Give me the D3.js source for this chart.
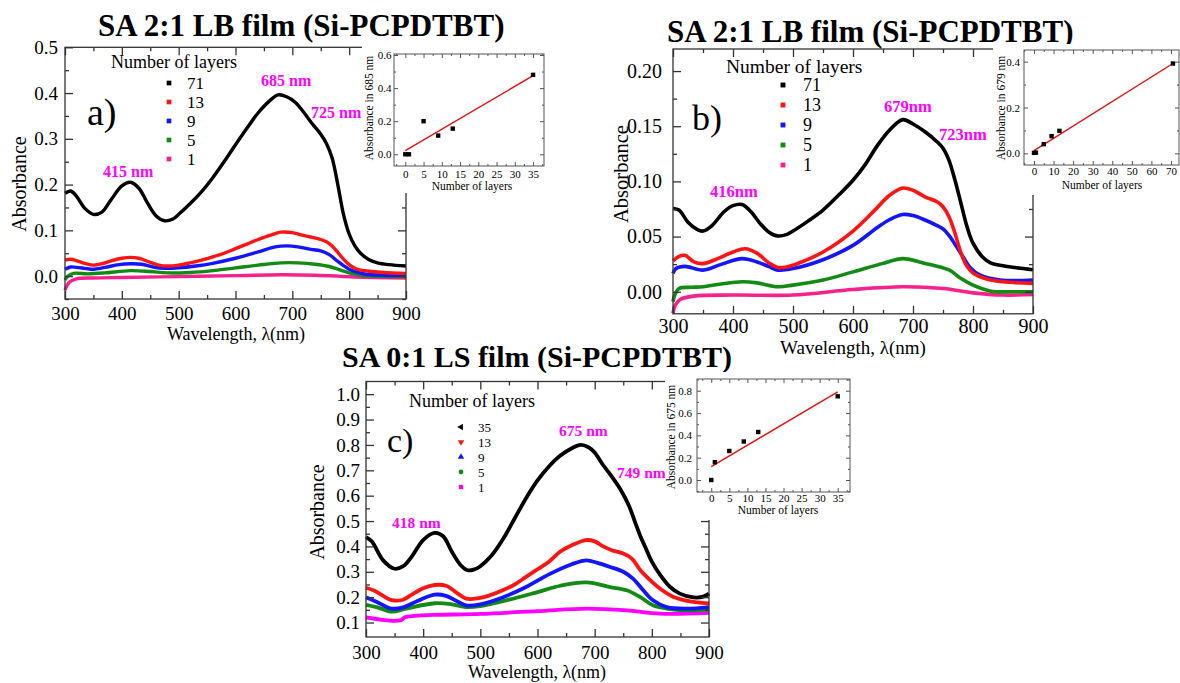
<!DOCTYPE html>
<html>
<head>
<meta charset="utf-8">
<script src="https://cdn.jsdelivr.net/npm/d3@7"></script>
<style>
body { margin:0; background:#fff; }
svg text { font-family: "Liberation Serif", "Times New Roman", Tinos, "DejaVu Serif", serif; }
</style>
</head>
<body>
<div id="vis"></div>
<script>
// ---- data ----
var layersAB = ["71", "13", "9", "5", "1"];
var layersC  = ["35", "13", "9", "5", "1"];

// panel a) SA 2:1 LB film, absorbance vs wavelength
var a71 = [[300,.181],[310,.186],[320,.175],[335,.148],[350,.135],[365,.140],[380,.165],[400,.197],[415,.205],[430,.192],[445,.160],[460,.132],[475,.121],[490,.125],[500,.135],[520,.158],[540,.184],[560,.215],[580,.250],[600,.287],[620,.323],[640,.357],[660,.383],[675,.396],[690,.392],[705,.380],[720,.358],[735,.333],[750,.310],[760,.290],[770,.258],[780,.200],[790,.135],[800,.092],[810,.066],[820,.050],[835,.036],[850,.029],[870,.025],[900,.022]];
var a13 = [[300,.035],[310,.037],[320,.034],[335,.028],[350,.024],[365,.027],[380,.033],[400,.039],[415,.041],[430,.039],[450,.030],[465,.024],[480,.022],[500,.024],[520,.029],[540,.035],[560,.042],[580,.050],[600,.060],[620,.070],[640,.080],[660,.089],[680,.096],[700,.095],[715,.090],[730,.086],[745,.082],[760,.075],[770,.066],[780,.052],[790,.037],[800,.025],[810,.017],[820,.013],[840,.010],[860,.008],[900,.006]];
var a9  = [[300,.015],[310,.020],[320,.019],[335,.017],[350,.015],[370,.019],[395,.025],[415,.027],[435,.026],[455,.020],[475,.017],[500,.018],[530,.022],[560,.028],[600,.039],[640,.053],[670,.064],[690,.066],[710,.064],[730,.059],[750,.055],[765,.047],[780,.032],[790,.023],[800,.015],[815,.008],[830,.004],[860,.002],[900,.001]];
var a5  = [[300,-.008],[305,.000],[315,.006],[340,.005],[370,.007],[415,.012],[450,.010],[480,.007],[520,.008],[560,.012],[600,.018],[640,.024],[680,.029],[710,.029],[740,.026],[765,.021],[785,.013],[800,.007],[815,.003],[840,.000],[900,-.001]];
var a1  = [[300,-.031],[303,-.022],[308,-.013],[320,-.006],[350,-.004],[400,-.003],[500,-.001],[600,.001],[680,.003],[740,.002],[780,.000],[810,-.002],[900,-.004]];

// panel b) SA 2:1 LB film
var b71 = [[300,.0755],[310,.074],[325,.063],[340,.0565],[350,.055],[365,.060],[385,.0725],[400,.078],[415,.079],[430,.0725],[445,.062],[460,.054],[475,.0505],[490,.052],[500,.055],[525,.064],[550,.074],[575,.087],[600,.101],[620,.115],[640,.132],[660,.146],[683,.156],[700,.152],[720,.145],[740,.136],[750,.130],[760,.119],[770,.101],[780,.080],[790,.059],[800,.044],[815,.032],[830,.026],[850,.0236],[870,.022],[900,.020]];
var b13 = [[300,.028],[310,.032],[320,.033],[335,.027],[350,.0255],[370,.029],[400,.036],[420,.039],[440,.035],[460,.026],[475,.022],[490,.0225],[510,.026],[550,.036],[600,.055],[640,.076],[660,.087],[683,.094],[700,.092],[720,.086],[740,.0815],[750,.077],[760,.068],[770,.053],[780,.035],[790,.023],[800,.017],[820,.012],[850,.009],[900,.0076]];
var b9  = [[300,.0166],[305,.021],[320,.023],[350,.0196],[380,.0248],[415,.030],[440,.027],[460,.0227],[475,.0196],[500,.021],[550,.029],[600,.042],[640,.058],[660,.065],[683,.070],[700,.069],[720,.065],[740,.060],[750,.057],[760,.051],[770,.043],[783,.032],[795,.022],[812,.015],[845,.0106],[900,.0106]];
var b5  = [[300,-.009],[303,-.003],[310,.003],[330,.004],[350,.0045],[380,.007],[415,.009],[440,.008],[475,.0045],[500,.006],[550,.0106],[600,.018],[650,.0257],[683,.030],[720,.0257],[760,.0197],[780,.012],[800,.006],[830,.0005],[870,.000],[900,.000]];
var b1  = [[300,-.0195],[304,-.012],[312,-.007],[334,-.004],[400,-.003],[500,-.003],[600,.002],[683,.0045],[750,.003],[800,-.001],[850,-.003],[900,-.0025]];

// panel c) SA 0:1 LS film
var c35 = [[300,.437],[310,.42],[330,.345],[350,.312],[365,.322],[380,.36],[400,.425],[420,.453],[435,.44],[450,.38],[465,.328],[478,.306],[490,.31],[500,.322],[520,.365],[540,.43],[560,.51],[580,.59],[600,.66],[620,.715],[640,.758],[660,.787],[675,.80],[690,.79],[700,.77],[715,.72],[730,.675],[745,.625],[760,.56],[770,.50],[780,.44],[790,.39],[800,.34],[814,.29],[832,.24],[849,.214],[873,.199],[890,.202],[900,.214]];
var c13 = [[300,.237],[315,.225],[330,.205],[345,.188],[365,.19],[380,.21],[400,.235],[420,.248],[440,.245],[460,.215],[475,.194],[495,.195],[520,.21],[540,.228],[560,.25],[580,.28],[600,.31],[620,.34],[640,.38],[660,.405],[685,.425],[700,.42],[715,.40],[730,.385],[750,.372],[765,.352],[780,.306],[797,.267],[814,.234],[838,.201],[873,.181],[900,.175]];
var c9  = [[300,.20],[320,.18],[345,.155],[365,.16],[390,.185],[420,.21],[440,.205],[460,.183],[475,.168],[500,.172],[540,.20],[580,.24],[620,.29],[660,.33],[686,.345],[705,.335],[727,.319],[750,.30],[767,.273],[785,.227],[802,.188],[826,.161],[861,.155],[900,.161]];
var c5  = [[300,.17],[320,.16],[345,.143],[370,.155],[420,.176],[450,.172],[475,.161],[500,.165],[550,.19],[600,.22],[640,.245],[686,.258],[727,.24],[756,.227],[779,.201],[802,.168],[826,.155],[861,.148],[900,.151]];
var c1  = [[300,.12],[345,.107],[362,.110],[368,.121],[385,.126],[420,.13],[500,.134],[600,.145],[686,.155],[756,.148],[814,.135],[900,.138]];

// insets: absorbance at peak vs number of layers, with linear fit
var insA_n = [0, 1, 5, 9, 13, 35],  insA_abs = [0, 0, 0.2, 0.113, 0.155, 0.48],   insA_fit = [[0, 0.022], [35, 0.475]];
var insB_n = [0, 1, 5, 9, 13, 71],  insB_abs = [0.002, 0.003, 0.04, 0.075, 0.098, 0.392], insB_fit = [[0, 0.012], [71, 0.392]];
var insC_n = [0, 1, 5, 9, 13, 35],  insC_abs = [0, 0.16, 0.26, 0.345, 0.43, 0.75], insC_fit = [[0, 0.12], [35, 0.79]];

var serif = '"Liberation Serif", "Times New Roman", Tinos, "DejaVu Serif", serif';
var pinkAB = "#f5228c", magenta = "#ff00ff";
var colsAB = ["#000000", "#ff1414", "#1414ff", "#138a13", pinkAB];
var colsC  = ["#000000", "#ff1414", "#1414ff", "#138a13", magenta];

var svg = d3.select("#vis").append("svg")
	.attr("width", 1180).attr("height", 683)
	.style("background", "#fff");

// box with inward ticks on all four sides
function boxAxes(g, x, y, o) {
	var xl = x.range()[0], xr = x.range()[1], yb = y.range()[0], yt = y.range()[1];
	function style(sel) {
		sel.select(".domain").remove();
		sel.selectAll("line").attr("stroke", o.stroke).attr("stroke-width", o.sw);
		sel.attr("font-family", null).attr("font-size", o.fs);
		sel.selectAll("text").attr("fill", "#000").style("font-family", serif);
	}
	g.append("g").attr("transform", "translate(0," + yb + ")")
		.call(d3.axisBottom(x).tickValues(o.xMajor).tickSize(-o.maj).tickPadding(o.padX).tickFormat(o.fx)).call(style);
	g.append("g").attr("transform", "translate(0," + yt + ")")
		.call(d3.axisTop(x).tickValues(o.xMajor).tickSize(-o.maj).tickFormat("")).call(style);
	g.append("g").attr("transform", "translate(" + xl + ",0)")
		.call(d3.axisLeft(y).tickValues(o.yMajor).tickSize(-o.maj).tickPadding(o.padY).tickFormat(o.fy)).call(style);
	g.append("g").attr("transform", "translate(" + xr + ",0)")
		.call(d3.axisRight(y).tickValues(o.yMajor).tickSize(-o.maj).tickFormat("")).call(style);
	[[d3.axisBottom, yb], [d3.axisTop, yt]].forEach(function(a) {
		g.append("g").attr("transform", "translate(0," + a[1] + ")")
			.call(a[0](x).tickValues(o.xMinor).tickSize(-o.mnr).tickFormat("")).call(style);
	});
	[[d3.axisLeft, xl], [d3.axisRight, xr]].forEach(function(a) {
		g.append("g").attr("transform", "translate(" + a[1] + ",0)")
			.call(a[0](y).tickValues(o.yMinor).tickSize(-o.mnr).tickFormat("")).call(style);
	});
	g.append("rect").attr("x", xl).attr("y", yt).attr("width", xr - xl).attr("height", yb - yt)
		.attr("fill", "none").attr("stroke", o.stroke).attr("stroke-width", o.sw);
}

function steps(a, b, s) {
	return d3.range(Math.round((b - a) / s) + 1).map(function(i) { return +(a + i * s).toFixed(4); });
}

function text(g, str, x, y, fs, opt) {
	opt = opt || {};
	var t = g.append("text").attr("x", x).attr("y", y)
		.style("font-family", serif).attr("font-size", fs)
		.attr("fill", opt.fill || "#000")
		.attr("text-anchor", opt.anchor || "start")
		.text(str);
	if (opt.bold) t.attr("font-weight", "bold");
	return t;
}

function vtext(g, str, cx, cy, fs) {
	g.append("text").attr("transform", "translate(" + cx + "," + cy + ") rotate(-90)")
		.attr("dy", "0.35em").attr("text-anchor", "middle")
		.style("font-family", serif).attr("font-size", fs).text(str);
}

function drawPanel(p) {
	var g = svg.append("g").attr("class", "panel");
	var x = d3.scaleLinear().domain([300, 900]).range(p.xr);
	var y = d3.scaleLinear().domain(p.yDom).range(p.yr);

	var line = d3.line()
		.x(function(d) { return x(d[0]); })
		.y(function(d) { return y(d[1]); })
		.curve(d3.curveCatmullRom.alpha(0.5));

	// draw 1 layer first, thickest film last (on top)
	p.series.slice().reverse().forEach(function(s, i) {
		var col = p.cols[p.series.length - 1 - i];
		g.append("path").datum(s).attr("d", line)
			.attr("fill", "none").attr("stroke", col)
			.attr("stroke-width", p.lw).attr("stroke-linejoin", "round");
	});

	boxAxes(g, x, y, {
		xMajor: steps(300, 900, 100), xMinor: steps(350, 850, 100),
		yMajor: p.yMajor, yMinor: p.yMinor,
		fx: d3.format("d"), fy: d3.format(p.fmt),
		maj: 8, mnr: 4, padX: p.padX, padY: p.padY, fs: p.fs, stroke: "#333", sw: 1.3
	});

	vtext(g, "Absorbance", p.yTitle[0], p.yTitle[1], p.yTitle[2]);
	text(g, "Wavelength, \u03bb(nm)", p.xTitle[0], p.xTitle[1], p.xTitle[2], {anchor: "middle"});

	// legend
	var lg = p.legend;
	text(g, "Number of layers", lg.x, lg.y, lg.fs);
	p.labels.forEach(function(l, i) {
		var cy = lg.y0 + i * lg.dy;
		g.append("path")
			.attr("transform", "translate(" + lg.sx + "," + cy + ")" + (lg.rot[i] ? " rotate(" + lg.rot[i] + ")" : ""))
			.attr("d", d3.symbol().type(lg.shapes[i]).size(lg.ss)())
			.attr("fill", p.cols[i]);
		text(g, l, lg.tx, cy + lg.fs2 * 0.35, lg.fs2);
	});

	text(g, p.tag[0], p.tag[1], p.tag[2], p.tag[3]);
	p.peaks.forEach(function(k) {
		text(g, k[0], k[1], k[2], p.peakFs, {bold: true, fill: magenta});
	});
	text(g, p.title[0], p.title[1], p.title[2], p.title[3], {bold: true});

	// inset
	var q = p.inset;
	g.append("rect").attr("x", q.bg[0]).attr("y", q.bg[1]).attr("width", q.bg[2]).attr("height", q.bg[3]).attr("fill", "#fff");
	var ix = d3.scaleLinear().domain(q.xDom).range(q.xr);
	var iy = d3.scaleLinear().domain(q.yDom).range(q.yr);
	boxAxes(g, ix, iy, {
		xMajor: q.xMajor, xMinor: q.xMinor, yMajor: q.yMajor, yMinor: q.yMinor,
		fx: d3.format("d"), fy: d3.format(".1f"),
		maj: 4, mnr: 2, padX: q.padX, padY: q.padY, fs: 11, stroke: "#555", sw: 1
	});
	g.append("path").datum(q.fit)
		.attr("d", d3.line().x(function(d) { return ix(d[0]); }).y(function(d) { return iy(d[1]); }))
		.attr("stroke", "#e01010").attr("stroke-width", 1.4).attr("fill", "none");
	g.selectAll(null).data(d3.zip(q.n, q.abs)).enter().append("rect")
		.attr("x", function(d) { return ix(d[0]) - 2.2; })
		.attr("y", function(d) { return iy(d[1]) - 2.2; })
		.attr("width", 4.4).attr("height", 4.4).attr("fill", "#000");
	vtext(g, q.yLabel, q.yTitle[0], q.yTitle[1], 11.5);
	text(g, "Number of layers", q.xTitle[0], q.xTitle[1], 11.5, {anchor: "middle"});
}

var sq = d3.symbolSquare;

drawPanel({
	xr: [65, 406], yr: [299, 47.3], yDom: [-0.05, 0.5],
	yMajor: steps(0, 0.5, 0.1), yMinor: steps(-0.05, 0.45, 0.1), fmt: ".1f",
	fs: 19, padX: 7.5, padY: 7, lw: 3.4,
	series: [a71, a13, a9, a5, a1], cols: colsAB, labels: layersAB,
	yTitle: [18.5, 184, 20], xTitle: [236, 340, 18],
	legend: {x: 111, y: 68, fs: 18, sx: 169, tx: 187, y0: 83, dy: 19, fs2: 17, ss: 22,
		shapes: [sq, sq, sq, sq, sq], rot: [0, 0, 0, 0, 0]},
	tag: ["a)", 87, 125, 38],
	peaks: [["685 nm", 261, 86], ["725 nm", 311, 118], ["415 nm", 103, 177]], peakFs: 16,
	title: ["SA 2:1 LB film (Si-PCPDTBT)", 98, 36, 31],
	inset: {
		bg: [362, 44, 200, 149],
		xr: [394, 544], yr: [166, 54], xDom: [-3.1, 38], yDom: [-0.0707, 0.606],
		xMajor: steps(0, 35, 5), xMinor: steps(-2.5, 37.5, 5),
		yMajor: steps(0, 0.6, 0.2), yMinor: steps(0.1, 0.5, 0.2),
		padX: 4, padY: 2.5,
		n: insA_n, abs: insA_abs, fit: insA_fit,
		yLabel: "Absorbance in 685 nm", yTitle: [369, 108], xTitle: [472, 190]
	}
});

drawPanel({
	xr: [673, 1033], yr: [313.8, 49], yDom: [-0.02, 0.22],
	yMajor: steps(0, 0.2, 0.05), yMinor: steps(0.025, 0.175, 0.05), fmt: ".2f",
	fs: 20, padX: 5, padY: 11, lw: 3.6,
	series: [b71, b13, b9, b5, b1], cols: colsAB, labels: layersAB,
	yTitle: [621, 174, 20.5], xTitle: [853, 354, 19],
	legend: {x: 726, y: 73, fs: 19.5, sx: 783, tx: 803, y0: 85, dy: 20, fs2: 18, ss: 24,
		shapes: [sq, sq, sq, sq, sq], rot: [0, 0, 0, 0, 0]},
	tag: ["b)", 692, 130, 36],
	peaks: [["679nm", 884, 112], ["723nm", 939, 140], ["416nm", 710, 197]], peakFs: 16.5,
	title: ["SA 2:1 LB film (Si-PCPDTBT)", 667, 42, 31],
	inset: {
		bg: [993, 44, 187, 151],
		xr: [1024, 1179], yr: [165, 50], xDom: [-5.1, 74.1], yDom: [-0.051, 0.451],
		xMajor: steps(0, 70, 10), xMinor: steps(-5, 65, 10),
		yMajor: steps(0, 0.4, 0.2), yMinor: steps(0.1, 0.3, 0.2),
		padX: 2.5, padY: 4,
		n: insB_n, abs: insB_abs, fit: insB_fit,
		yLabel: "Absorbance in 679 nm", yTitle: [1001, 108], xTitle: [1102, 189]
	}
});

drawPanel({
	xr: [366, 709], yr: [637, 381.5], yDom: [0.043, 1.05],
	yMajor: steps(0.1, 1.0, 0.1), yMinor: steps(0.15, 0.95, 0.1), fmt: ".1f",
	fs: 19, padX: 8.5, padY: 6, lw: 3.8,
	series: [c35, c13, c9, c5, c1], cols: colsC, labels: layersC,
	yTitle: [317, 512, 20], xTitle: [537, 678, 18],
	legend: {x: 409, y: 407, fs: 18, sx: 461, tx: 478, y0: 427, dy: 15, fs2: 13, ss: 18,
		shapes: [d3.symbolTriangle, d3.symbolTriangle, d3.symbolTriangle, d3.symbolCircle, sq], rot: [-90, 180, 0, 0, 0]},
	tag: ["c)", 387, 452, 34],
	peaks: [["675 nm", 559, 436], ["749 nm", 617, 478], ["418 nm", 392, 528]], peakFs: 15.5,
	title: ["SA 0:1 LS film (Si-PCPDTBT)", 342, 367, 30],
	inset: {
		bg: [665, 372, 215, 148],
		xr: [697, 850], yr: [492, 379], xDom: [-3.95, 38.4], yDom: [-0.1075, 0.905],
		xMajor: steps(0, 35, 5), xMinor: steps(-2.5, 37.5, 5),
		yMajor: steps(0, 0.8, 0.2), yMinor: steps(-0.1, 0.9, 0.2),
		padX: 2, padY: 5,
		n: insC_n, abs: insC_abs, fit: insC_fit,
		yLabel: "Absorbance in 675 nm", yTitle: [671, 437], xTitle: [778, 514]
	}
});
</script>
</body>
</html>
